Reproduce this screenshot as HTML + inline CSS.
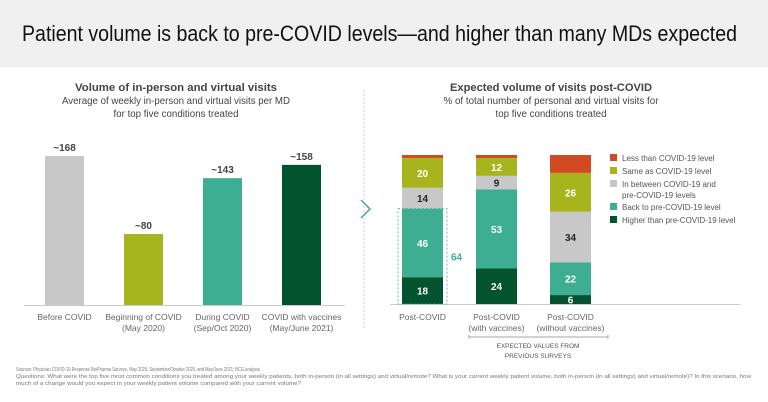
<!DOCTYPE html>
<html><head><meta charset="utf-8"><style>
body{margin:0;background:#fff;font-family:"Liberation Sans",sans-serif}
svg{display:block}
text{font-family:"Liberation Sans",sans-serif}
</style></head><body>
<svg width="768" height="402" viewBox="0 0 768 402">
<rect x="0" y="0" width="768" height="67" fill="#f0f0f0"/>
<text x="22" y="41" font-size="22" fill="#111" textLength="715" lengthAdjust="spacingAndGlyphs">Patient volume is back to pre-COVID levels—and higher than many MDs expected</text>

<text x="176" y="91" font-size="11" font-weight="bold" fill="#444" text-anchor="middle" textLength="202" lengthAdjust="spacingAndGlyphs">Volume of in-person and virtual visits</text>
<text x="176" y="104" font-size="10" fill="#444" text-anchor="middle" textLength="228" lengthAdjust="spacingAndGlyphs">Average of weekly in-person and virtual visits per MD</text>
<text x="176" y="117" font-size="10" fill="#444" text-anchor="middle" textLength="125" lengthAdjust="spacingAndGlyphs">for top five conditions treated</text>

<text x="551" y="91" font-size="11" font-weight="bold" fill="#444" text-anchor="middle" textLength="202" lengthAdjust="spacingAndGlyphs">Expected volume of visits post-COVID</text>
<text x="551" y="104" font-size="10" fill="#444" text-anchor="middle" textLength="215" lengthAdjust="spacingAndGlyphs">% of total number of personal and virtual visits for</text>
<text x="551" y="117" font-size="10" fill="#444" text-anchor="middle" textLength="111" lengthAdjust="spacingAndGlyphs">top five conditions treated</text>

<line x1="364" y1="90" x2="364" y2="330" stroke="#ccc" stroke-dasharray="2,2"/>
<polyline points="361,200 370,209 361,218" fill="none" stroke="#3eae93" stroke-width="1.5"/>

<g id="left"></g>
<g id="right"></g>

<line x1="469" y1="337" x2="608" y2="337" stroke="#888" stroke-width="0.7"/>
<line x1="469" y1="335" x2="469" y2="339" stroke="#888" stroke-width="0.7"/>
<line x1="608" y1="335" x2="608" y2="339" stroke="#888" stroke-width="0.7"/>
<text x="538" y="348" font-size="6.5" fill="#555" text-anchor="middle">EXPECTED VALUES FROM</text>
<text x="538" y="358" font-size="6.5" fill="#555" text-anchor="middle">PREVIOUS SURVEYS</text>

<text x="16" y="371" font-size="5" fill="#777" textLength="245" lengthAdjust="spacingAndGlyphs">Sources: Physician COVID-19 Response BioPharma Surveys, May 2020, September/October 2020, and May/June 2021; BCG analysis.</text>
<text x="16" y="378" font-size="5" fill="#777" textLength="735" lengthAdjust="spacingAndGlyphs">Questions: What were the top five most common conditions you treated among your weekly patients, both in-person (in all settings) and virtual/remote? What is your current weekly patient volume, both in-person (in all settings) and virtual/remote)? In this scenario, how</text>
<text x="16" y="385" font-size="5" fill="#777" textLength="285" lengthAdjust="spacingAndGlyphs">much of a change would you expect in your weekly patient volume compared with your current volume?</text>
</svg>
<script>
const leftCats=[["Before COVID"],["Beginning of COVID","(May 2020)"],["During COVID","(Sep/Oct 2020)"],["COVID with vaccines","(May/June 2021)"]];
const leftValues=[168,80,143,158];
const leftLabels=["~168","~80","~143","~158"];
const leftColors=["#c8c8c8","#a8b41e","#3eae93","#04532f"];

const rightCats=[["Post-COVID"],["Post-COVID","(with vaccines)"],["Post-COVID","(without vaccines)"]];
const seriesNames=["Higher than pre-COVID-19 level","Back to pre-COVID-19 level","In between COVID-19 and pre-COVID-19 levels","Same as COVID-19 level","Less than COVID-19 level"];
const sHigher=[18,24,6];
const sBack=[46,53,22];
const sBetween=[14,9,34];
const sSame=[20,12,26];
const sLess=[2,2,12];
const seriesColors=["#04532f","#3eae93","#c8c8c8","#a8b41e","#d24a24"];

const NS="http://www.w3.org/2000/svg";
function mk(p,t,a,txt){const e=document.createElementNS(NS,t);for(const k in a)e.setAttribute(k,a[k]);if(txt!==undefined)e.textContent=txt;p.appendChild(e);return e;}

const L=document.getElementById('left');
const lBase=305, lScale=149/168;
const lx=i=>45+i*79, lw=39;
const ly=v=>lBase-v*lScale;
leftValues.forEach((v,i)=>{
  const r=mk(L,'rect',{x:lx(i),y:ly(v),width:lw,height:lBase-ly(v),fill:leftColors[i]});
  
  
  const t=mk(L,'text',{x:lx(i)+lw/2,y:ly(v)-5,'font-size':10,'font-weight':'bold',fill:'#444','text-anchor':'middle'},leftLabels[i]);
  
  
  leftCats[i].forEach((s,j)=>{
    const c=mk(L,'text',{x:lx(i)+lw/2,y:320+j*11,'font-size':8.5,fill:'#666','text-anchor':'middle'},s);
    
    
  });
});
const la=mk(L,'line',{x1:24,y1:lBase+0.5,x2:345,y2:lBase+0.5,stroke:'#ccc'});



const R=document.getElementById('right');
const rBase=304, rScale=149/100;
const rx=i=>402+i*74, rw=41;
const series=[sHigher,sBack,sBetween,sSame,sLess];
rightCats.forEach((cat,i)=>{
  let acc=0;
  series.forEach((s,k)=>{
    const v=s[i];
    const y1=rBase-(acc+v)*rScale, h=v*rScale;
    const r=mk(R,'rect',{x:rx(i),y:y1,width:rw,height:h,fill:seriesColors[k]});
    
    
    if(v>=5 && k!==4){
      const t=mk(R,'text',{x:rx(i)+rw/2,y:y1+h/2+4,'font-size':10,'font-weight':'bold',fill:(k===2?'#222':'#fff'),'text-anchor':'middle'},String(v));
      
      
    }
    acc+=v;
  });
  cat.forEach((s,j)=>{
    const c=mk(R,'text',{x:rx(i)+rw/2,y:320+j*11,'font-size':8.5,fill:'#666','text-anchor':'middle'},s);
    
    
  });
});
const ra=mk(R,'line',{x1:390,y1:rBase+0.5,x2:740,y2:rBase+0.5,stroke:'#ccc'});


const tot=sHigher[0]+sBack[0];
const bx=mk(R,'rect',{x:rx(0)-4,y:rBase-tot*rScale,width:rw+8,height:tot*rScale,fill:'none',stroke:'#3eae93','stroke-dasharray':'2,2','stroke-width':0.8});


const tt=mk(R,'text',{x:rx(0)+rw+8,y:rBase-tot*rScale/2+4,'font-size':10,'font-weight':'bold',fill:'#3eae93'},String(tot));


const legY=[158,171,184,207,220];
const legOrder=[4,3,2,1,0];
legOrder.forEach((k,idx)=>{
  const y=legY[idx];
  const sq=mk(R,'rect',{x:610,y:y-4,width:7,height:7,fill:seriesColors[k]});
  
  
  const lines=k===2?["In between COVID-19 and","pre-COVID-19 levels"]:[seriesNames[k]];
  lines.forEach((s,j)=>{
    const t=mk(R,'text',{x:622,y:y+3+j*11,'font-size':8,fill:'#555'},s);
    
    
  });
});
</script>
</body></html>
